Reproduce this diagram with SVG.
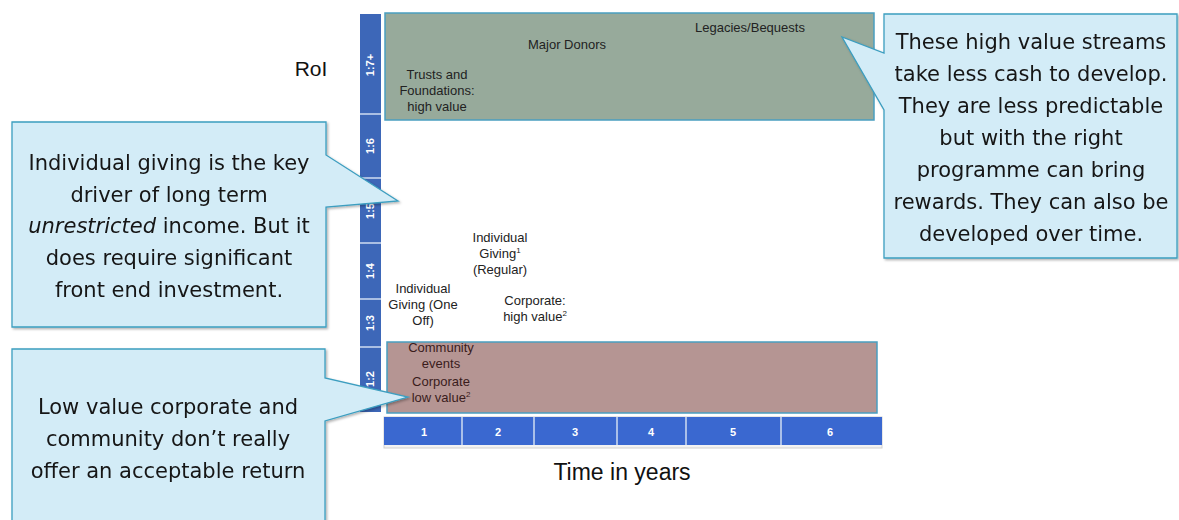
<svg xmlns="http://www.w3.org/2000/svg" width="1179" height="520" viewBox="0 0 1179 520">
<defs>
<style>
.lbl{font-family:"Liberation Sans",Arial,sans-serif;font-size:13px;fill:#222;text-anchor:middle}
.lblp{font-family:"Liberation Sans",Arial,sans-serif;font-size:13px;fill:#3a1c1c;text-anchor:middle}
.ax{font-family:"Liberation Sans",Arial,sans-serif;font-size:11px;font-weight:bold;fill:#fff;text-anchor:middle}
.co{fill:#d3ecf7;stroke:#3c9ec0;stroke-width:1.3}
.ct{font-family:"DejaVu Sans","Open Sans",sans-serif;font-size:21px;fill:#161616;text-anchor:middle}
.sup{font-size:8px}
.div{stroke:#cfdcf2;stroke-width:1.5}
</style>
<filter id="sh" x="-5%" y="-5%" width="115%" height="115%">
<feDropShadow dx="1.5" dy="1.5" stdDeviation="1.2" flood-color="#000" flood-opacity="0.3"/>
</filter>
</defs>
<rect width="1179" height="520" fill="#fff"/>

<g id="y-axis">
<rect x="360" y="14" width="21" height="398" fill="#3d67b8"/>
<line class="div" x1="360" y1="114" x2="381" y2="114"/>
<line class="div" x1="360" y1="178" x2="381" y2="178"/>
<line class="div" x1="360" y1="243" x2="381" y2="243"/>
<line class="div" x1="360" y1="299" x2="381" y2="299"/>
<line class="div" x1="360" y1="347" x2="381" y2="347"/>
<text class="ax" font-size="10" transform="translate(374,65) rotate(-90)">1:7+</text>
<text class="ax" transform="translate(374,146) rotate(-90)">1:6</text>
<text class="ax" transform="translate(374,211) rotate(-90)">1:5</text>
<text class="ax" transform="translate(374,271) rotate(-90)">1:4</text>
<text class="ax" transform="translate(374,323) rotate(-90)">1:3</text>
<text class="ax" transform="translate(374,379) rotate(-90)">1:2</text>
</g>

<g id="x-axis">
<rect x="384" y="417" width="498" height="31" fill="#f2f2f2" stroke="#d0d0d0" stroke-width="1"/>
<rect x="384" y="417" width="498" height="28" fill="#3a68d0"/>
<line class="div" x1="462" y1="417" x2="462" y2="445"/>
<line class="div" x1="534" y1="417" x2="534" y2="445"/>
<line class="div" x1="617" y1="417" x2="617" y2="445"/>
<line class="div" x1="686" y1="417" x2="686" y2="445"/>
<line class="div" x1="781" y1="417" x2="781" y2="445"/>
<text class="ax" x="424" y="436">1</text>
<text class="ax" x="498" y="436">2</text>
<text class="ax" x="575" y="436">3</text>
<text class="ax" x="651" y="436">4</text>
<text class="ax" x="733" y="436">5</text>
<text class="ax" x="830" y="436">6</text>
</g>

<g id="axis-titles">
<text x="311" y="76" font-family="'Liberation Sans',Arial,sans-serif" font-size="21" fill="#111" text-anchor="middle">RoI</text>
<text x="622" y="480" font-family="'Liberation Sans',Arial,sans-serif" font-size="23" fill="#111" text-anchor="middle">Time in years</text>
</g>

<g id="high-value-band">
<rect x="385" y="13" width="489" height="107" fill="#97aa9b" stroke="#4a9ec0" stroke-width="1.5"/>
<text class="lbl" x="750" y="32">Legacies/Bequests</text>
<text class="lbl" x="567" y="49">Major Donors</text>
<text class="lbl" x="437" y="79">Trusts and</text>
<text class="lbl" x="437" y="95">Foundations:</text>
<text class="lbl" x="437" y="111">high value</text>
</g>

<g id="individual-regular">
<text class="lbl" x="500" y="242">Individual</text>
<text class="lbl" x="500" y="258">Giving<tspan class="sup" dy="-5">1</tspan></text>
<text class="lbl" x="500" y="274">(Regular)</text>
</g>

<g id="individual-oneoff">
<text class="lbl" x="423" y="293">Individual</text>
<text class="lbl" x="423" y="309">Giving (One</text>
<text class="lbl" x="423" y="325">Off)</text>
</g>

<g id="corporate-high">
<text class="lbl" x="535" y="305">Corporate:</text>
<text class="lbl" x="535" y="321">high value<tspan class="sup" dy="-5">2</tspan></text>
</g>

<g id="low-value-band">
<rect x="387" y="342" width="490" height="71" fill="#b59593" stroke="#4a9ec0" stroke-width="1.5"/>
<text class="lblp" x="441" y="352">Community</text>
<text class="lblp" x="441" y="368">events</text>
<text class="lblp" x="441" y="386">Corporate</text>
<text class="lblp" x="441" y="402">low value<tspan class="sup" dy="-5">2</tspan></text>
</g>

<g id="callout-individual" filter="url(#sh)">
<path class="co" d="M12,122 H326 V155 L398,201 L326,207 V327 H12 Z"/>
<text class="ct" x="169" y="170">Individual giving is the key</text>
<text class="ct" x="169" y="202">driver of long term</text>
<text class="ct" x="169" y="233"><tspan font-style="italic">unrestricted</tspan> income. But it</text>
<text class="ct" x="169" y="265">does require significant</text>
<text class="ct" x="169" y="297">front end investment.</text>
</g>

<g id="callout-low-value" filter="url(#sh)">
<path class="co" d="M12,349 H325 V378 L408,397 L325,421 V521 H12 Z"/>
<text class="ct" x="168" y="414">Low value corporate and</text>
<text class="ct" x="168" y="446">community don’t really</text>
<text class="ct" x="168" y="478">offer an acceptable return</text>
</g>

<g id="callout-high-value" filter="url(#sh)">
<path class="co" d="M884,14 H1177 V258 H884 V110 L842,37 L884,53 Z"/>
<text class="ct" x="1031" y="49">These high value streams</text>
<text class="ct" x="1031" y="81">take less cash to develop.</text>
<text class="ct" x="1031" y="113">They are less predictable</text>
<text class="ct" x="1031" y="145">but with the right</text>
<text class="ct" x="1031" y="177">programme can bring</text>
<text class="ct" x="1031" y="209">rewards. They can also be</text>
<text class="ct" x="1031" y="241">developed over time.</text>
</g>
</svg>
